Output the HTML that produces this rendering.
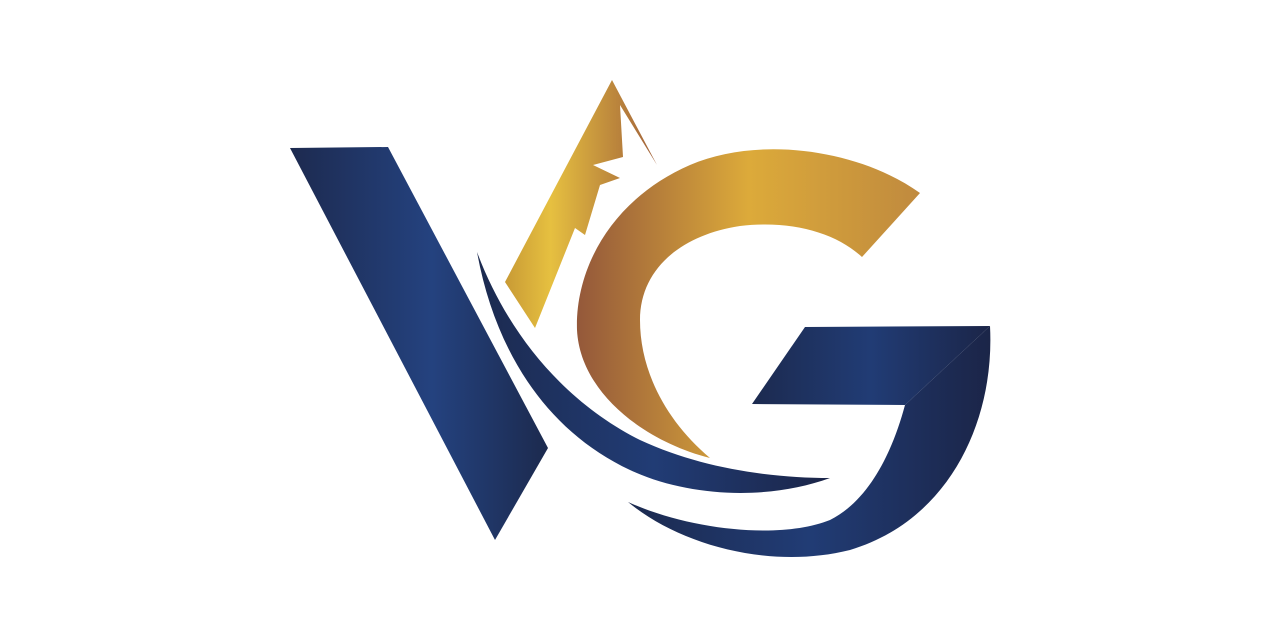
<!DOCTYPE html>
<html><head><meta charset="utf-8"><style>html,body{margin:0;padding:0;background:#fff;}svg{display:block}</style></head>
<body>
<svg width="1280" height="640" viewBox="0 0 1280 640">
<defs>
<linearGradient id="blueV" x1="0" y1="0" x2="1" y2="0"><stop offset="0" stop-color="#1d2a4f"/><stop offset="0.55" stop-color="#24427f"/><stop offset="1" stop-color="#1c2a4e"/></linearGradient>
<linearGradient id="blueG" x1="0" y1="0" x2="1" y2="0"><stop offset="0" stop-color="#1c2a4f"/><stop offset="0.5" stop-color="#213c75"/><stop offset="1" stop-color="#1b2548"/></linearGradient>
<linearGradient id="gold" x1="0" y1="0" x2="1" y2="0"><stop offset="0" stop-color="#94583a"/><stop offset="0.5" stop-color="#dcaa3a"/><stop offset="1" stop-color="#c08a3e"/></linearGradient>
<linearGradient id="goldM" x1="0" y1="0" x2="1" y2="0"><stop offset="0" stop-color="#c89a35"/><stop offset="0.3" stop-color="#e6c040"/><stop offset="1" stop-color="#a0603a"/></linearGradient>
</defs>
<polygon fill="url(#blueV)" points="290,148 388,147 548,448 495,540"/>
<path fill="url(#goldM)" d="M505,282 L612,80 L657,165 L620,105 L623,157 L593,165 L620,178 L600,185 L585,235 L575,228 L535,328 Z"/>
<path fill="url(#gold)" d="M920,193 C860,150 760,135 690,165 C610,200 575,270 577,330 C580,390 640,440 710,458 C665,420 640,370 640,320 C640,270 680,235 740,226 C790,220 835,232 862,257 Z"/>
<path fill="url(#blueG)" d="M477,252 C495,350 545,430 630,470 C690,498 770,500 830,478 C770,478 700,468 640,440 C570,405 510,340 477,252 Z"/>
<path fill="url(#blueG)" d="M805,327 L990,326 L905,405 L752,404 Z"/>
<path fill="url(#blueG)" d="M990,326 C995,420 950,520 850,550 C770,570 680,545 628,502 C690,530 780,540 830,520 C870,500 893,450 905,405 Z"/>
</svg>
</body></html>
